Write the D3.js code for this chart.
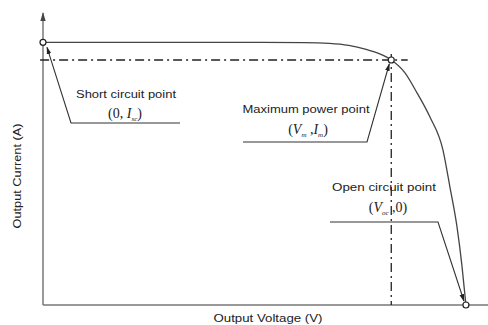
<!DOCTYPE html>
<html><head><meta charset="utf-8">
<script src="https://cdn.jsdelivr.net/npm/d3@7"></script>
<style>
body{margin:0;background:#fff;}
svg{display:block;}
text{font-family:"Liberation Sans",Arial,sans-serif;fill:#222;}
.math{font-family:"Liberation Serif","Times New Roman",serif;}
</style></head>
<body>
<svg id="chart" width="488" height="325"></svg>
<script>
// I-V curve (voltage in V, current in A)
const voltage = [0, 5, 10, 13.5, 14.8, 15.8, 16.7, 17.4, 18.0, 18.7, 19.33, 20.0, 20.67, 21.03, 21.4, 21.65, 21.86];
const current = [5.2, 5.2, 5.2, 5.195, 5.18, 5.14, 5.06, 4.97, 4.85, 4.6, 4.20, 3.72, 3.07, 2.34, 1.54, 0.79, 0];
const Isc = 5.2, Vm = 18.0, Im = 4.85, Voc = 21.86;
const annotations = ["Short circuit point", "Maximum power point", "Open circuit point"];
const axisLabels = ["Output Voltage (V)", "Output Current (A)"];

const svg = d3.select("#chart");
const x = d3.scaleLinear().domain([0, 23]).range([43, 488]);
const y = d3.scaleLinear().domain([0, 5.8]).range([305, 12]);

const defs = svg.append("defs");
defs.append("marker").attr("id","ah").attr("viewBox","0 0 10 10").attr("refX",9).attr("refY",5)
  .attr("markerWidth",7).attr("markerHeight",7).attr("orient","auto-start-reverse")
  .append("path").attr("d","M0,2 L10,5 L0,8 Z").attr("fill","#222");
defs.append("marker").attr("id","ay").attr("viewBox","0 0 10 10").attr("refX",9).attr("refY",5)
  .attr("markerWidth",6).attr("markerHeight",6).attr("orient","auto")
  .append("path").attr("d","M0,2 L10,5 L0,8 Z").attr("fill","#444");

// axes
svg.append("line").attr("x1",x(0)).attr("x2",488).attr("y1",y(0)).attr("y2",y(0))
  .attr("stroke","#777").attr("stroke-width",1.5);
svg.append("line").attr("x1",x(0)).attr("x2",x(0)).attr("y1",y(0)).attr("y2",y(5.8)+1)
  .attr("stroke","#777").attr("stroke-width",1.5).attr("marker-end","url(#ay)");

// dash-dot guide lines
svg.append("line").attr("x1",x(-0.15)).attr("x2",x(Vm+0.85)).attr("y1",y(Im)).attr("y2",y(Im))
  .attr("stroke","#222").attr("stroke-width",1.3).attr("stroke-dasharray","9,4,2,4");
svg.append("line").attr("x1",x(Vm)).attr("x2",x(Vm)).attr("y1",y(Im)-6).attr("y2",y(0))
  .attr("stroke","#222").attr("stroke-width",1.3).attr("stroke-dasharray","9,4,2,4");

// curve
const pts = voltage.map((v,i)=>[v,current[i]]);
svg.append("path").datum(pts)
  .attr("d", d3.line().x(d=>x(d[0])).y(d=>y(d[1])).curve(d3.curveMonotoneX))
  .attr("fill","none").attr("stroke","#444").attr("stroke-width",1.3);

// leaders
const leader = (p) => svg.append("polyline").attr("points", p.map(d=>d.join(",")).join(" "))
  .attr("fill","none").attr("stroke","#333").attr("stroke-width",1.1).attr("marker-end","url(#ah)");
leader([[180,123],[71,123],[x(0)+4,y(Isc)+5]]);
leader([[243,142],[367,142],[x(Vm)-2,y(Im)+4]]);
leader([[330,222],[438,222],[x(Voc)-2,y(0)-4]]);

// points
[[0,Isc],[Vm,Im],[Voc,0]].forEach(d=>{
  svg.append("circle").attr("cx",x(d[0])).attr("cy",y(d[1])).attr("r",3)
    .attr("fill","#fff").attr("stroke","#222").attr("stroke-width",1.2);
});

// annotation text
const lab = (t,cx,cy,w)=>svg.append("text").attr("x",cx).attr("y",cy).attr("text-anchor","middle")
  .attr("font-size",10.5).attr("textLength",w).attr("lengthAdjust","spacingAndGlyphs").text(t);
lab(annotations[0],126,98,100);
lab(annotations[1],306,113,127);
lab(annotations[2],384,191,104);

function math(cx, cy, parts){
  const t = svg.append("text").attr("class","math").attr("x",cx).attr("y",cy)
    .attr("text-anchor","middle").attr("font-size",14);
  parts.forEach(p=>{
    const ts = t.append("tspan").text(p[0]);
    if(p[1]==="i") ts.attr("font-style","italic");
    if(p[1]==="s") ts.attr("font-size",7).attr("font-style","italic").attr("dy",3);
    if(p[1]==="r") ts.attr("dy",-3);
  });
}
math(125,118,[["(0, ",""],["I","i"],["sc","s"],[")","r"]]);
math(308,134,[["(",""],["V","i"],["m","s"],[" ,","r"],["I","i"],["m","s"],[")","r"]]);
math(388,212,[["(",""],["V","i"],["oc","s"],[" ,0)","r"]]);

// axis labels
svg.append("text").attr("x",268).attr("y",322).attr("text-anchor","middle").attr("font-size",10)
  .attr("textLength",109).attr("lengthAdjust","spacingAndGlyphs").text(axisLabels[0]);
svg.append("text").attr("transform","translate(21,176) rotate(-90)").attr("text-anchor","middle")
  .attr("font-size",10).attr("textLength",105).attr("lengthAdjust","spacingAndGlyphs").text(axisLabels[1]);
</script>
</body></html>
